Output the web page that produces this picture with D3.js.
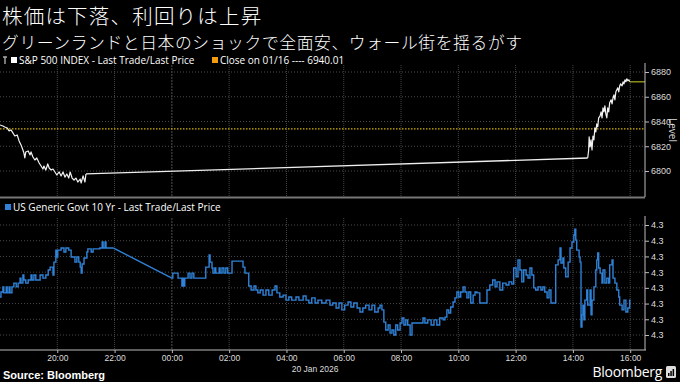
<!doctype html>
<html>
  <head>
    <meta charset="utf-8">
    <title>株価は下落、利回りは上昇</title>
    <script src="https://cdnjs.cloudflare.com/ajax/libs/d3/7.8.5/d3.min.js"></script>
    <style>
      body { margin: 0; background: #000; }
      svg text { fill: #fff; }
      .cjk { font-family: "Noto Sans CJK JP", sans-serif; font-weight: 300; }
      .leg { font-family: "Open Sans", "Liberation Sans", sans-serif; font-size: 10px; }
      .ax text { font-family: "Liberation Sans Narrow", "Liberation Sans", sans-serif; font-size: 9px; fill: #ddd; }
    </style>
  </head>
  <body>
    <div id="chart"></div>
    <script>
      // texts
      const title = "株価は下落、利回りは上昇";
      const subtitle = "グリーンランドと日本のショックで全面安、ウォール街を揺るがす";
      const spxName = "S&P 500 INDEX - Last Trade/Last Price";
      const closeName = "Close on 01/16 ---- 6940.01";
      const yieldName = "US Generic Govt 10 Yr - Last Trade/Last Price";

      // S&P 500, [minutes after 19 Jan 2026 18:00, level]
      const spxEvening = [[0,6837.2],[6,6836.4],[10,6835.6],[15,6834.8],[19,6832.4],[23,6833.2],[27,6830.8],[31,6828.3],
        [36,6829.1],[40,6824.3],[44,6821.1],[48,6817.0],[50,6814.6],[52,6810.5],[54,6815.4],[59,6816.2],[63,6813.0],
        [65,6815.4],[69,6811.3],[73,6808.9],[77,6810.5],[82,6806.5],[86,6804.0],[90,6801.6],[92,6804.0],[96,6800.8],
        [100,6805.7],[103,6802.4],[107,6800.8],[111,6801.6],[115,6799.2],[119,6796.8],[124,6799.2],[128,6796.0],
        [132,6799.2],[136,6795.1],[140,6797.6],[144,6794.3],[147,6799.2],[151,6794.3],[155,6792.7],[159,6794.3],
        [163,6791.1],[168,6793.5],[170,6790.3],[174,6796.0],[178,6791.1],[180,6797.6]];
      const spxAfternoon = [[1231,6810.5],[1233,6817.0],[1234,6827.5],[1236,6819.4],[1238,6825.1],[1240,6817.0],
        [1242,6828.3],[1244,6825.1],[1246,6834.8],[1248,6831.6],[1250,6838.1],[1252,6835.6],[1254,6842.9],[1257,6844.5],
        [1259,6847.8],[1261,6842.9],[1263,6851.0],[1265,6847.8],[1267,6852.6],[1269,6846.2],[1271,6842.9],[1273,6851.0],
        [1275,6847.8],[1277,6855.1],[1280,6857.5],[1282,6854.3],[1284,6859.1],[1286,6861.5],[1288,6857.5],[1290,6864.0],
        [1292,6865.6],[1294,6867.2],[1296,6864.0],[1298,6868.8],[1300,6870.4],[1303,6868.8],[1305,6872.1],[1307,6870.4],
        [1309,6873.7],[1311,6872.1],[1313,6874.5],[1315,6872.9],[1317,6873.7],[1319,6872.1]];
      const spxCloseLevel = 6834;
      const spxTicks = [6800, 6820, 6840, 6860, 6880];

      // US 10 year yield, [minutes after 19 Jan 2026 18:00, yield]
      const yieldNight = [[0,4.2721],[2,4.2737],[6,4.2753],[8,4.2734],[13,4.2753],[15,4.2734],[19,4.2753],[21,4.2734],
        [25,4.2753],[29,4.2765],[34,4.2753],[38,4.2765],[42,4.2781],[44,4.2765],[48,4.2791],[50,4.2775],[54,4.2765],
        [59,4.2775],[65,4.2791],[67,4.2775],[71,4.2791],[75,4.2775],[84,4.2791],[90,4.2781],[96,4.2791],[101,4.2807],
        [105,4.2816],[111,4.2791],[113,4.2832],[117,4.2870],[119,4.2848],[121,4.2870],[128,4.2877],[134,4.2864],
        [138,4.2877],[144,4.2870],[149,4.2848],[157,4.2832],[161,4.2848],[165,4.2832],[168,4.2816],[170,4.2797],
        [172,4.2826],[176,4.2845],[182,4.2864],[184,4.2874],[191,4.2864],[195,4.2874],[209,4.2877],[214,4.2896],
        [216,4.2877],[220,4.2896],[222,4.2877],[237,4.2877]];
      const yieldDay = [[360,4.2781],[362,4.2797],[373,4.2781],[381,4.2756],[383,4.2781],[385,4.2756],[387,4.2781],
        [394,4.2797],[398,4.2781],[402,4.2797],[406,4.2781],[431,4.2816],[438,4.2855],[440,4.2832],[444,4.2813],
        [446,4.2797],[450,4.2813],[452,4.2797],[459,4.2813],[461,4.2797],[465,4.2813],[469,4.2797],[473,4.2813],
        [477,4.2797],[486,4.2835],[509,4.2816],[513,4.2797],[521,4.2756],[526,4.2743],[532,4.2756],[536,4.2743],
        [540,4.2734],[545,4.2743],[551,4.2727],[557,4.2743],[563,4.2727],[570,4.2743],[576,4.2756],[580,4.2734],
        [586,4.2721],[593,4.2727],[599,4.2711],[605,4.2721],[611,4.2711],[620,4.2721],[626,4.2711],[635,4.2724],
        [641,4.2711],[647,4.2702],[653,4.2718],[660,4.2702],[666,4.2711],[674,4.2702],[683,4.2711],[691,4.2695],
        [697,4.2702],[704,4.2686],[710,4.2702],[716,4.2680],[722,4.2695],[729,4.2705],[735,4.2689],[741,4.2702],
        [748,4.2686],[754,4.2673],[760,4.2686],[766,4.2695],[773,4.2680],[779,4.2695],[785,4.2673],[792,4.2686],
        [796,4.2695],[800,4.2680],[804,4.2641],[808,4.2616],[813,4.2632],[817,4.2606],[821,4.2616],[825,4.2600],
        [829,4.2632],[833,4.2616],[838,4.2638],[842,4.2654],[846,4.2632],[850,4.2648],[854,4.2632],[859,4.2600],
        [863,4.2638],[886,4.2654],[890,4.2638],[896,4.2648],[903,4.2632],[909,4.2648],[915,4.2632],[921,4.2654],
        [928,4.2648],[932,4.2657],[936,4.2680],[940,4.2670],[944,4.2689],[949,4.2705],[953,4.2718],[957,4.2737],
        [961,4.2721],[965,4.2737],[970,4.2753],[974,4.2737],[978,4.2718],[982,4.2737],[986,4.2702],[991,4.2727],
        [995,4.2737],[999,4.2734],[1005,4.2702],[1020,4.2743],[1026,4.2759],[1032,4.2775],[1037,4.2753],[1041,4.2769],
        [1047,4.2743],[1053,4.2765],[1060,4.2759],[1066,4.2769],[1072,4.2762],[1076,4.2813],[1081,4.2785],[1085,4.2839],
        [1089,4.2807],[1093,4.2769],[1097,4.2807],[1102,4.2791],[1106,4.2781],[1110,4.2813],[1114,4.2791],[1118,4.2750],
        [1122,4.2743],[1127,4.2753],[1133,4.2743],[1137,4.2753],[1141,4.2737],[1146,4.2718],[1150,4.2743],[1154,4.2702],
        [1164,4.2823],[1169,4.2839],[1173,4.2877],[1175,4.2829],[1179,4.2845],[1181,4.2813],[1185,4.2785],[1190,4.2832],
        [1194,4.2877],[1198,4.2896],[1202,4.2918],[1204,4.2937],[1206,4.2902],[1208,4.2870],[1213,4.2848],[1215,4.2832],
        [1217,4.2625],[1219,4.2664],[1221,4.2695],[1223,4.2648],[1225,4.2711],[1229,4.2743],[1231,4.2695],[1236,4.2743],
        [1238,4.2664],[1240,4.2711],[1244,4.2753],[1248,4.2807],[1250,4.2839],[1252,4.2861],[1254,4.2813],[1257,4.2797],
        [1261,4.2765],[1263,4.2807],[1267,4.2765],[1271,4.2781],[1275,4.2765],[1277,4.2823],[1282,4.2839],[1284,4.2781],
        [1288,4.2765],[1292,4.2743],[1296,4.2721],[1298,4.2695],[1303,4.2680],[1307,4.2711],[1311,4.2673],[1315,4.2686],
        [1319,4.2711],[1321,4.2711]];
      const yieldTicks = [4.26, 4.265, 4.27, 4.275, 4.28, 4.285, 4.29, 4.295];

      const startTime = new Date(2026, 0, 19, 18, 0);
      const endMinutes = 1351;
      const toDate = m => d3.timeMinute.offset(startTime, m);

      const W = 680, H = 382;
      const plotRight = 645;
      const top1 = 65, bot1 = 197, top2 = 218, bot2 = 350;

      const svg = d3.select('#chart').append('svg')
        .attr('width', W).attr('height', H)
        .style('background', '#000');

      // scales
      const x = d3.scaleTime().domain([startTime, toDate(endMinutes)]).range([0, plotRight]);
      const ySpx = d3.scaleLinear().domain([6800, 6880]).range([171, 72]);
      const yYld = d3.scaleLinear().domain([4.26, 4.295]).range([335, 225]);

      // titles
      svg.append('text').attr('class', 'cjk').attr('x', 2).attr('y', 24)
        .style('font-size', '20.5px').style('letter-spacing', '1.2px').text(title);
      svg.append('text').attr('class', 'cjk').attr('x', 2).attr('y', 49.2)
        .style('font-size', '16.8px').style('letter-spacing', '0.6px').text(subtitle);

      // clip areas for the two panels
      const defs = svg.append('defs');
      defs.append('clipPath').attr('id', 'clip1').append('rect')
        .attr('x', 0).attr('y', top1).attr('width', plotRight).attr('height', bot1 - top1);
      defs.append('clipPath').attr('id', 'clip2').append('rect')
        .attr('x', 0).attr('y', top2).attr('width', plotRight).attr('height', bot2 - top2);

      // grid
      const hourTicks = x.ticks(d3.timeHour.every(2)).filter(d => x(d) > 20);
      const grid = svg.append('g');
      [[top1, bot1], [top2, bot2]].forEach(([a, b]) => {
        grid.selectAll(null).data(hourTicks).join('line')
          .attr('x1', d => x(d)).attr('x2', d => x(d))
          .attr('y1', a).attr('y2', b)
          .attr('stroke', d => d.getHours() === 0 ? '#505050' : '#444')
          .attr('stroke-dasharray', d => d.getHours() === 0 ? '2,1' : '1,1');
      });
      grid.selectAll(null).data(spxTicks).join('line')
        .attr('x1', 0).attr('x2', plotRight)
        .attr('y1', d => ySpx(d)).attr('y2', d => ySpx(d))
        .attr('stroke', '#4a4a4a').attr('stroke-dasharray', '1,2');
      grid.selectAll(null).data(yieldTicks).join('line')
        .attr('x1', 0).attr('x2', plotRight)
        .attr('y1', d => yYld(d)).attr('y2', d => yYld(d))
        .attr('stroke', '#4a4a4a').attr('stroke-dasharray', '1,2');

      // S&P panel
      const p1 = svg.append('g').attr('clip-path', 'url(#clip1)');
      p1.append('line')
        .attr('x1', 0).attr('x2', plotRight)
        .attr('y1', ySpx(spxCloseLevel)).attr('y2', ySpx(spxCloseLevel))
        .attr('stroke', '#d8b400').attr('stroke-width', 1.2).attr('stroke-dasharray', '1.5,1.5');

      const spxLine = d3.line().x(d => x(toDate(d[0]))).y(d => ySpx(d[1]));
      const spxLast = spxAfternoon[spxAfternoon.length - 1];
      p1.append('path')
        .datum([spxLast, [endMinutes, spxLast[1]]])
        .attr('d', spxLine).attr('fill', 'none')
        .attr('stroke', '#8a8a1c').attr('stroke-width', 1.5);
      p1.append('path')
        .datum([spxEvening[spxEvening.length - 1], spxAfternoon[0]])
        .attr('d', spxLine).attr('fill', 'none')
        .attr('stroke', '#eee').attr('stroke-width', 1.3);
      [spxEvening, spxAfternoon].forEach(seg => {
        p1.append('path').datum(seg)
          .attr('d', spxLine).attr('fill', 'none')
          .attr('stroke', '#f2f2f2').attr('stroke-width', 1.2)
          .attr('stroke-linejoin', 'round');
      });

      // yield panel
      const p2 = svg.append('g').attr('clip-path', 'url(#clip2)');
      const yldStep = d3.line().curve(d3.curveStepAfter)
        .x(d => x(toDate(d[0]))).y(d => yYld(d[1]));
      const yldLine = d3.line().x(d => x(toDate(d[0]))).y(d => yYld(d[1]));
      p2.append('path')
        .datum([yieldNight[yieldNight.length - 1], yieldDay[0]])
        .attr('d', yldLine).attr('fill', 'none')
        .attr('stroke', '#2f82d8').attr('stroke-width', 1.4);
      [yieldNight, yieldDay].forEach(seg => {
        p2.append('path').datum(seg)
          .attr('d', yldStep).attr('fill', 'none')
          .attr('stroke', '#2f82d8').attr('stroke-width', 1.4);
      });

      // panel separator
      svg.append('line').attr('x1', 0).attr('x2', plotRight)
        .attr('y1', bot1 + 0.5).attr('y2', bot1 + 0.5)
        .attr('stroke', '#777').attr('stroke-width', 2);

      // right axes
      const axisColor = '#bbb';
      function rightAxis(scale, ticks, minor, fmt, a, b) {
        const g = svg.append('g').attr('class', 'ax')
          .attr('transform', `translate(${plotRight},0)`);
        g.call(d3.axisRight(scale).tickValues(minor).tickSize(2).tickFormat(''));
        g.call(d3.axisRight(scale).tickValues(ticks).tickSize(4).tickPadding(2).tickFormat(fmt));
        g.selectAll('.domain').remove();
        g.selectAll('line').attr('stroke', axisColor);
        g.append('line').attr('x1', 0).attr('x2', 0).attr('y1', a).attr('y2', b)
          .attr('stroke', axisColor);
        return g;
      }
      rightAxis(ySpx, spxTicks, d3.range(6790, 6885, 10), d3.format('d'), top1 - 2, bot1);
      rightAxis(yYld, yieldTicks, d3.range(4.2575, 4.297, 0.0025), d3.format('.1f'), top2 - 2, bot2);

      svg.append('text').attr('class', 'leg')
        .attr('transform', 'translate(669,118) rotate(90)')
        .style('font-size', '10px').style('fill', '#ddd').text('Level');

      // time axis
      const xAxis = svg.append('g').attr('class', 'ax')
        .attr('transform', `translate(0,${bot2})`);
      xAxis.call(d3.axisBottom(x).ticks(d3.timeHour.every(1)).tickSize(2).tickFormat(''));
      xAxis.call(d3.axisBottom(x).tickValues(hourTicks).tickSize(3).tickPadding(2)
        .tickFormat(d3.timeFormat('%H:%M')));
      xAxis.selectAll('.domain').remove();
      xAxis.selectAll('line').attr('stroke', axisColor);
      xAxis.append('line').attr('x1', 0).attr('x2', plotRight + 1)
        .attr('stroke', axisColor);
      xAxis.selectAll('text').style('font-size', '8.5px');
      xAxis.append('text')
        .attr('x', x(new Date(2026, 0, 20, 5, 0))).attr('y', 22)
        .attr('text-anchor', 'middle').style('font-size', '8.5px')
        .text(d3.timeFormat('%-d %b %Y')(new Date(2026, 0, 20)));

      // legends
      svg.append('path').attr('d', 'M3,57 h4 M5,57 v7').attr('stroke', '#aaa').attr('stroke-width', 1.4);
      svg.append('rect').attr('x', 11).attr('y', 57).attr('width', 6).attr('height', 6).attr('fill', '#fff');
      svg.append('text').attr('class', 'leg').attr('x', 19).attr('y', 64.2).text(spxName);
      svg.append('rect').attr('x', 212).attr('y', 57).attr('width', 6).attr('height', 6).attr('fill', '#f39c12');
      svg.append('text').attr('class', 'leg').attr('x', 220).attr('y', 64.2).text(closeName);

      svg.append('rect').attr('x', 5).attr('y', 204).attr('width', 6).attr('height', 6).attr('fill', '#2f82d8');
      svg.append('text').attr('class', 'leg').attr('x', 13).attr('y', 211).text(yieldName);

      // footer
      svg.append('text').attr('x', 3).attr('y', 379)
        .style('font-family', '"Liberation Sans", sans-serif').style('font-weight', 'bold')
        .style('font-size', '11px').text('Source: Bloomberg');
      svg.append('text').attr('x', 662).attr('y', 377).attr('text-anchor', 'end')
        .style('font-family', '"Open Sans", sans-serif').style('font-size', '14px')
        .style('letter-spacing', '-0.3px').text('Bloomberg');
      svg.append('rect').attr('x', 666).attr('y', 366).attr('width', 10).attr('height', 12)
        .attr('rx', 1.5).attr('fill', '#ddd');
      svg.append('g').selectAll('rect').data([3, 5, 7]).join('rect')
        .attr('x', (d, i) => 668 + i * 2.3).attr('y', d => 376 - d).attr('width', 1.5)
        .attr('height', d => d).attr('fill', '#000');
    </script>
  </body>
</html>
